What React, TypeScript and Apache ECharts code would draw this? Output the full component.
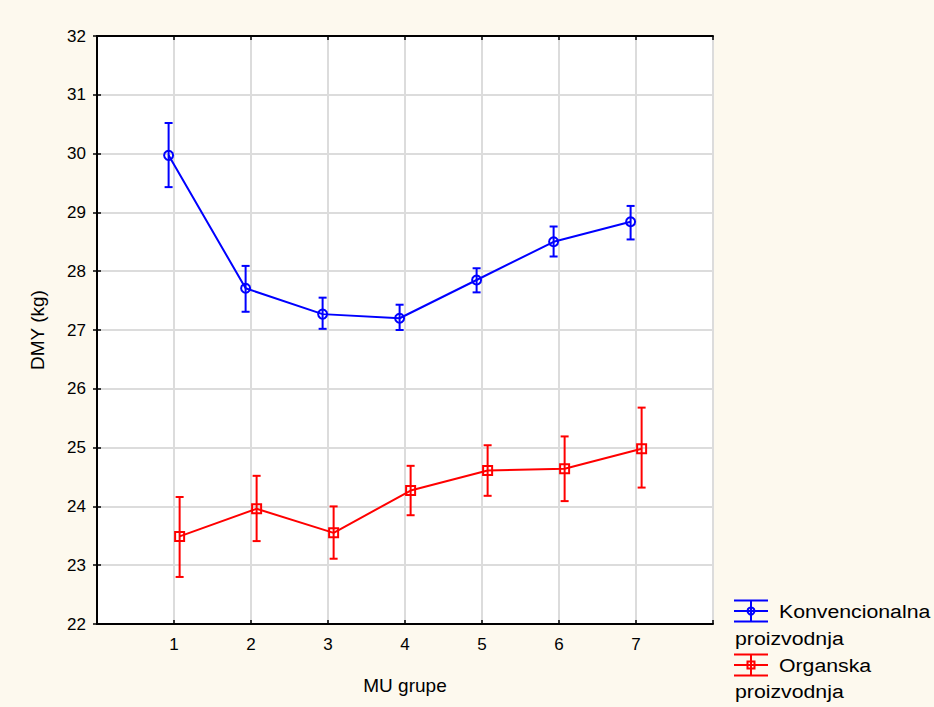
import React, { useEffect, useRef } from "react";
import * as echarts from "echarts";

const categories = [1, 2, 3, 4, 5, 6, 7];
const xTickLabels = ["1", "2", "3", "4", "5", "6", "7"];

const seriesNames = ["Konvencionalna proizvodnja", "Organska proizvodnja"];

const konvMean = [29.97, 27.71, 27.27, 27.2, 27.85, 28.5, 28.84];
const konvLow = [29.43, 27.31, 27.02, 27.0, 27.64, 28.25, 28.54];
const konvHigh = [30.52, 28.09, 27.55, 27.43, 28.05, 28.76, 29.11];

const orgMean = [23.49, 23.96, 23.55, 24.27, 24.61, 24.64, 24.98];
const orgLow = [22.8, 23.41, 23.11, 23.85, 24.18, 24.09, 24.32];
const orgHigh = [24.16, 24.52, 24.0, 24.69, 25.04, 25.19, 25.68];

// horizontal jitter of each series around its category
const konvOffset = -0.07;
const orgOffset = 0.073;

const BLUE = "#0000ff";
const RED = "#ff0000";
const FONT = "Liberation Sans, Arial, sans-serif";

function buildErr(mean: number[], low: number[], high: number[], off: number) {
  return categories.map((c, i) => [c + off, mean[i], low[i], high[i]]);
}

function errRender(color: string, shape: "circle" | "square") {
  return (params: any, api: any) => {
    const x = api.value(0);
    const p = api.coord([x, api.value(1)]);
    const lo = api.coord([x, api.value(2)]);
    const hi = api.coord([x, api.value(3)]);
    const cap = 4;
    const st = { stroke: color, lineWidth: 2, fill: "none" };
    const children: any[] = [
      { type: "line", shape: { x1: p[0], y1: hi[1], x2: p[0], y2: lo[1] }, style: st },
      { type: "line", shape: { x1: p[0] - cap, y1: hi[1], x2: p[0] + cap, y2: hi[1] }, style: st },
      { type: "line", shape: { x1: p[0] - cap, y1: lo[1], x2: p[0] + cap, y2: lo[1] }, style: st },
    ];
    if (shape === "circle") {
      children.push({ type: "circle", shape: { cx: p[0], cy: p[1], r: 4.5 }, style: st });
    } else {
      children.push({ type: "rect", shape: { x: p[0] - 4.5, y: p[1] - 4.5, width: 9, height: 9 }, style: st });
    }
    return { type: "group", children };
  };
}

function legendIcon(cx: number, cy: number, color: string, shape: "circle" | "square") {
  const st = { stroke: color, lineWidth: 2, fill: "none" };
  const half = 17;
  const dy = 10.5;
  const els: any[] = [
    { type: "line", shape: { x1: cx - half, y1: cy - dy, x2: cx + half, y2: cy - dy }, style: st },
    { type: "line", shape: { x1: cx - half, y1: cy, x2: cx + half, y2: cy }, style: st },
    { type: "line", shape: { x1: cx - half, y1: cy + dy, x2: cx + half, y2: cy + dy }, style: st },
    { type: "line", shape: { x1: cx, y1: cy - dy, x2: cx, y2: cy + dy }, style: st },
  ];
  if (shape === "circle") {
    els.push({ type: "circle", shape: { cx, cy, r: 3.5 }, style: st });
  } else {
    els.push({ type: "rect", shape: { x: cx - 3.5, y: cy - 3.5, width: 7, height: 7 }, style: st });
  }
  return els;
}

function legendText(text: string, x: number, y: number) {
  return {
    type: "text",
    x,
    y,
    scaleX: 1.12,
    style: { text, fill: "#000", font: `19px ${FONT}`, textVerticalAlign: "middle", textAlign: "left" },
  };
}

export default function App() {
  const ref = useRef<HTMLDivElement>(null);
  useEffect(() => {
    if (!ref.current) return;
    const chart = echarts.init(ref.current, undefined, { renderer: "svg" });
    const [konvFirst, konvSecond] = seriesNames[0].split(" ");
    const [orgFirst, orgSecond] = seriesNames[1].split(" ");
    const axisLine = { show: true, lineStyle: { color: "#000", width: 2 } };
    const axisTick = { show: true, inside: true, length: 4, lineStyle: { color: "#000", width: 1.5 } };
    const splitLine = { show: true, lineStyle: { color: "#dcdcdc", width: 2 } };
    chart.setOption({
      animation: false,
      backgroundColor: "#fdf9ee",
      textStyle: { fontFamily: FONT },
      grid: { left: 97, right: 221, top: 36, bottom: 83, show: true, backgroundColor: "#fff", borderWidth: 0 },
      xAxis: [
        {
          type: "value",
          min: 0,
          max: 8,
          interval: 1,
          position: "bottom",
          axisLine,
          axisTick,
          splitLine,
          axisLabel: {
            color: "#000",
            fontSize: 17,
            margin: 12,
            formatter: (v: number) => {
              const idx = categories.indexOf(v);
              return idx >= 0 ? xTickLabels[idx] : "";
            },
          },
          name: "MU grupe",
          nameLocation: "middle",
          nameGap: 52,
          nameTextStyle: { color: "#000", fontSize: 19 },
        },
        {
          type: "value",
          min: 0,
          max: 8,
          interval: 1,
          position: "top",
          axisLine,
          axisTick,
          splitLine: { show: false },
          axisLabel: { show: false },
        },
      ],
      yAxis: [
        {
          type: "value",
          min: 22,
          max: 32,
          interval: 1,
          position: "left",
          axisLine,
          axisTick,
          splitLine,
          axisLabel: { color: "#000", fontSize: 17, margin: 11 },
          name: "DMY (kg)",
          nameLocation: "middle",
          nameGap: 50,
          nameTextStyle: { color: "#000", fontSize: 19 },
        },
        {
          type: "value",
          min: 22,
          max: 32,
          interval: 1,
          position: "right",
          axisLine,
          axisTick,
          splitLine: { show: false },
          axisLabel: { show: false },
        },
      ],
      series: [
        {
          name: seriesNames[0],
          type: "line",
          data: categories.map((c, i) => [c + konvOffset, konvMean[i]]),
          showSymbol: false,
          lineStyle: { color: BLUE, width: 2 },
          z: 3,
        },
        {
          name: seriesNames[1],
          type: "line",
          data: categories.map((c, i) => [c + orgOffset, orgMean[i]]),
          showSymbol: false,
          lineStyle: { color: RED, width: 2 },
          z: 3,
        },
        {
          type: "custom",
          data: buildErr(konvMean, konvLow, konvHigh, konvOffset),
          renderItem: errRender(BLUE, "circle"),
          z: 4,
        },
        {
          type: "custom",
          data: buildErr(orgMean, orgLow, orgHigh, orgOffset),
          renderItem: errRender(RED, "square"),
          z: 4,
        },
      ],
      graphic: [
        ...legendIcon(751, 611, BLUE, "circle"),
        legendText(konvFirst, 779, 611),
        legendText(konvSecond, 735, 638),
        ...legendIcon(751, 665, RED, "square"),
        legendText(orgFirst, 779, 665),
        legendText(orgSecond, 735, 691),
      ],
    });
    return () => chart.dispose();
  }, []);
  return <div ref={ref} style={{ position: "fixed", left: 0, top: 0, width: 934, height: 707 }} />;
}
